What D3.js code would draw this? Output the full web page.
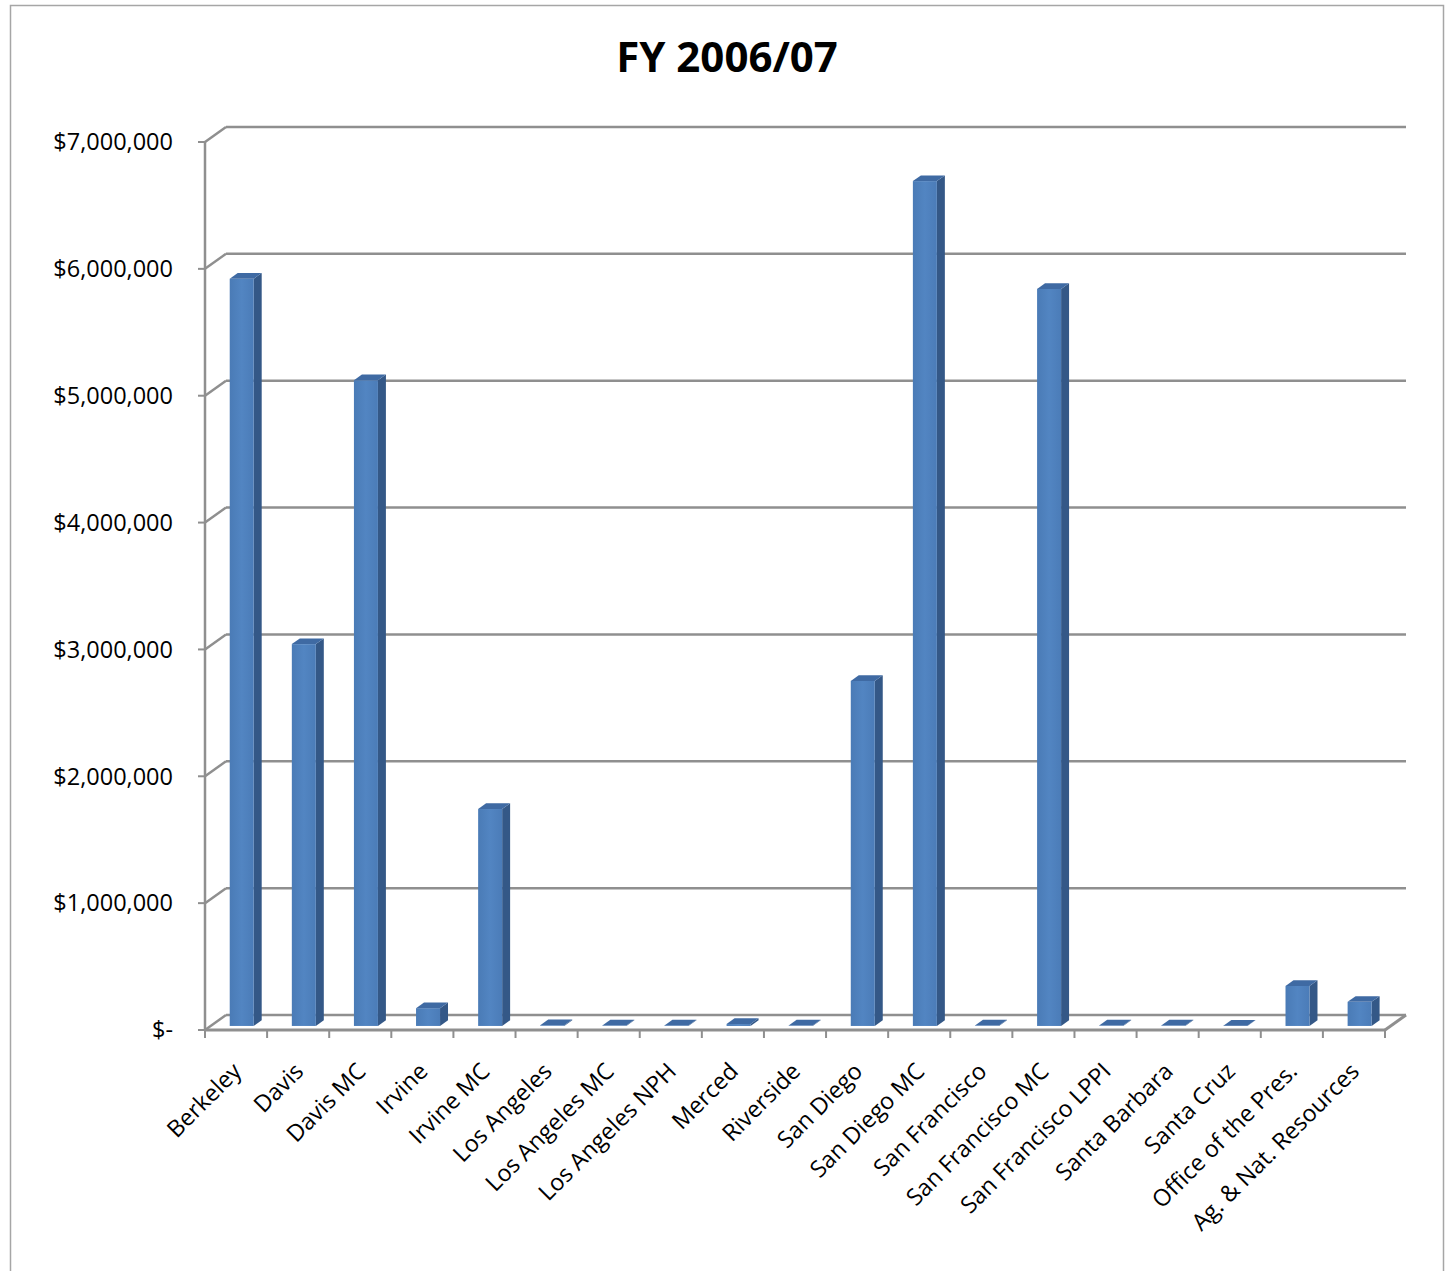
<!DOCTYPE html>
<html><head><meta charset="utf-8">
<script src="https://cdn.jsdelivr.net/npm/d3@7"></script>
<style>html,body{margin:0;padding:0;background:#fff;}</style>
</head><body>
<svg id="chart" width="1452" height="1271"></svg>
<script>
const categories = ["Berkeley","Davis","Davis MC","Irvine","Irvine MC","Los Angeles","Los Angeles MC","Los Angeles NPH","Merced","Riverside","San Diego","San Diego MC","San Francisco","San Francisco MC","San Francisco LPPI","Santa Barbara","Santa Cruz","Office of the Pres.","Ag. & Nat. Resources"];
const values = [5890000,3010000,5090000,140000,1710000,5000,3000,4000,15000,3000,2720000,6660000,3000,5810000,3000,3000,2000,315000,190000];
const yTicks = [0,1000000,2000000,3000000,4000000,5000000,6000000,7000000];
const yTickLabels = ["$-","$1,000,000","$2,000,000","$3,000,000","$4,000,000","$5,000,000","$6,000,000","$7,000,000"];
const title = "FY 2006/07";

const svg = d3.select("#chart");
const font = "'Open Sans', 'Liberation Sans', sans-serif";
const DX = 21, DY = -15;       // depth offset front->back
const f0 = 0.27, f1 = 0.65;    // bar depth fractions
const gridColor = "#8f8f8f";

// outer border
svg.append("rect").attr("x",10.5).attr("y",5.5).attr("width",1433).attr("height",1290)
  .attr("fill","#fff").attr("stroke","#a6a6a6").attr("stroke-width",1.5);

const x = d3.scaleBand().domain(categories).range([205,1385]).paddingInner(0).paddingOuter(0);
const y = d3.scaleLinear().domain([0,7000000]).range([1030,142]);

// title
svg.append("text").attr("x",727).attr("y",72).attr("text-anchor","middle")
  .attr("font-family",font).attr("font-weight","bold").attr("font-size",42).attr("fill","#000").text(title);

const g = svg.append("g");
yTicks.forEach(t=>{
  const yy = y(t);
  g.append("line").attr("x1",205+DX).attr("x2",1385+DX).attr("y1",yy+DY).attr("y2",yy+DY)
    .attr("stroke",gridColor).attr("stroke-width",2.5);
  g.append("line").attr("x1",205).attr("x2",205+DX).attr("y1",yy).attr("y2",yy+DY)
    .attr("stroke",gridColor).attr("stroke-width",2.5);
  g.append("line").attr("x1",198).attr("x2",205).attr("y1",yy).attr("y2",yy)
    .attr("stroke",gridColor).attr("stroke-width",2);
});
g.append("line").attr("x1",205).attr("x2",205).attr("y1",y(7000000)).attr("y2",y(0))
  .attr("stroke",gridColor).attr("stroke-width",2.5);
g.append("line").attr("x1",205).attr("x2",1385).attr("y1",y(0)).attr("y2",y(0))
  .attr("stroke",gridColor).attr("stroke-width",3);
g.append("line").attr("x1",1385).attr("x2",1385+DX).attr("y1",y(0)).attr("y2",y(0)+DY)
  .attr("stroke",gridColor).attr("stroke-width",3);
const bounds = categories.map(c=>x(c)).concat([1385]);
bounds.forEach(bx=>{
  g.append("line").attr("x1",bx).attr("x2",bx).attr("y1",y(0)).attr("y2",y(0)+8)
    .attr("stroke",gridColor).attr("stroke-width",2);
});

yTicks.forEach((t,i)=>{
  svg.append("text").attr("x",173).attr("y",y(t)).attr("dy","0.35em").attr("text-anchor","end")
    .attr("font-family",font).attr("font-size",23.5).attr("fill","#000").text(yTickLabels[i]);
});

const defs = svg.append("defs");
const grad = defs.append("linearGradient").attr("id","front").attr("x1","0").attr("x2","1").attr("y1","0").attr("y2","0");
grad.append("stop").attr("offset","0%").attr("stop-color","#4a7bb6");
grad.append("stop").attr("offset","50%").attr("stop-color","#5285c2");
grad.append("stop").attr("offset","100%").attr("stop-color","#4b7cb8");

const bw = 24;
const bars = svg.append("g");
categories.forEach((c,i)=>{
  const v = values[i];
  const bx0 = x(c) + (x.bandwidth()-bw)/2 + f0*DX;
  const bx1 = bx0 + bw;
  const yb = y(0) + f0*DY;
  const yt = y(v) + f0*DY;
  const ddx = (f1-f0)*DX, ddy = (f1-f0)*DY;
  bars.append("path").attr("d",`M${bx1},${yt}L${bx1+ddx},${yt+ddy}L${bx1+ddx},${yb+ddy}L${bx1},${yb}Z`)
    .attr("fill","#345887");
  bars.append("rect").attr("x",bx0).attr("y",yt).attr("width",bw).attr("height",Math.max(0,yb-yt))
    .attr("fill","url(#front)");
  bars.append("path").attr("d",`M${bx0},${yt}L${bx0+ddx},${yt+ddy}L${bx1+ddx},${yt+ddy}L${bx1},${yt}Z`)
    .attr("fill","#3f6aa3");
});

categories.forEach(c=>{
  const cx = x(c) + x.bandwidth()/2 + 1;
  svg.append("text").attr("transform",`translate(${cx},${1067}) rotate(-45)`)
    .attr("text-anchor","end").attr("dy","0.35em")
    .attr("font-family",font).attr("font-size",23.3).attr("fill","#000").text(c);
});
</script>
</body></html>
